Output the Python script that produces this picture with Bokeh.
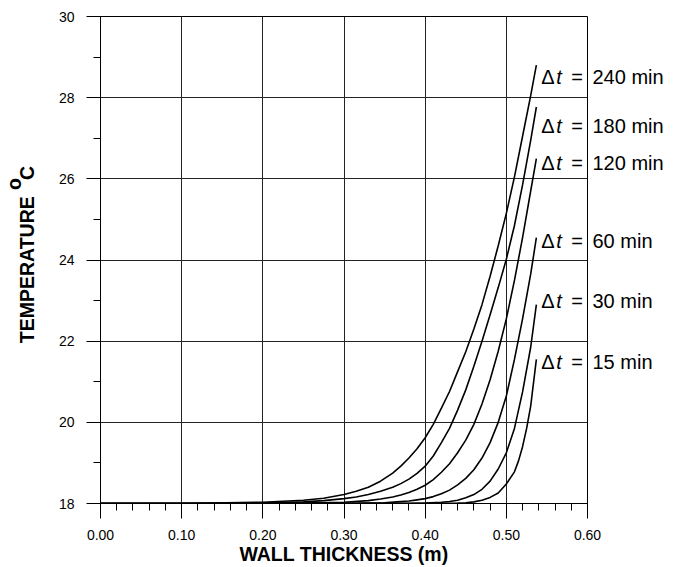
from bokeh.plotting import figure
from bokeh.models import Range1d, FixedTicker, Label, PrintfTickFormatter, LinearAxis
from bokeh.embed import file_html
from bokeh.resources import INLINE

# ---------------- data ----------------
x_ticks = [0.0, 0.1, 0.2, 0.3, 0.4, 0.5, 0.6]
x_tick_labels = ["0.00", "0.10", "0.20", "0.30", "0.40", "0.50", "0.60"]
x_minor = [round(i * 0.02, 2) for i in range(31)]
y_ticks = [18, 20, 22, 24, 26, 28, 30]
y_tick_labels = ["18", "20", "22", "24", "26", "28", "30"]
y_minor = list(range(18, 31))

series_names = ["240 min", "180 min", "120 min", "60 min", "30 min", "15 min"]

x_240 = [0.00, 0.10, 0.20, 0.25, 0.275, 0.30, 0.315, 0.33, 0.345, 0.36, 0.37, 0.38, 0.39, 0.40, 0.41, 0.42, 0.43, 0.44, 0.45, 0.46, 0.47, 0.48, 0.49, 0.50, 0.51, 0.52, 0.53, 0.537]
t_240 = [18.00, 18.00, 18.03, 18.08, 18.13, 18.22, 18.30, 18.40, 18.55, 18.75, 18.92, 19.12, 19.35, 19.62, 19.95, 20.35, 20.76, 21.25, 21.74, 22.30, 22.90, 23.60, 24.35, 25.15, 26.05, 27.05, 28.05, 28.80]

x_180 = [0.00, 0.15, 0.20, 0.25, 0.275, 0.30, 0.315, 0.33, 0.345, 0.36, 0.37, 0.38, 0.39, 0.40, 0.41, 0.42, 0.43, 0.44, 0.45, 0.46, 0.47, 0.48, 0.49, 0.50, 0.51, 0.52, 0.53, 0.537]
t_180 = [18.00, 18.00, 18.01, 18.04, 18.07, 18.12, 18.16, 18.22, 18.30, 18.40, 18.49, 18.60, 18.74, 18.92, 19.17, 19.50, 19.85, 20.30, 20.80, 21.38, 22.00, 22.65, 23.32, 24.02, 24.85, 25.85, 26.95, 27.77]

x_120 = [0.00, 0.20, 0.25, 0.30, 0.33, 0.345, 0.36, 0.37, 0.38, 0.39, 0.40, 0.41, 0.42, 0.43, 0.44, 0.45, 0.46, 0.47, 0.48, 0.49, 0.50, 0.51, 0.52, 0.53, 0.537]
t_120 = [18.00, 18.00, 18.01, 18.03, 18.07, 18.11, 18.16, 18.21, 18.27, 18.35, 18.45, 18.59, 18.77, 18.98, 19.25, 19.56, 19.95, 20.45, 21.05, 21.75, 22.55, 23.50, 24.55, 25.70, 26.50]

x_60 = [0.00, 0.30, 0.35, 0.365, 0.38, 0.39, 0.40, 0.41, 0.42, 0.43, 0.44, 0.45, 0.46, 0.47, 0.48, 0.49, 0.50, 0.51, 0.52, 0.53, 0.537]
t_60 = [18.00, 18.00, 18.02, 18.04, 18.06, 18.09, 18.12, 18.17, 18.24, 18.33, 18.46, 18.62, 18.83, 19.12, 19.50, 20.00, 20.65, 21.55, 22.55, 23.65, 24.55]

x_30 = [0.00, 0.38, 0.40, 0.42, 0.43, 0.44, 0.45, 0.46, 0.47, 0.48, 0.49, 0.50, 0.51, 0.52, 0.53, 0.537]
t_30 = [18.00, 18.00, 18.01, 18.03, 18.05, 18.08, 18.14, 18.22, 18.35, 18.55, 18.85, 19.25, 19.85, 20.75, 21.85, 22.90]

x_15 = [0.00, 0.44, 0.45, 0.46, 0.47, 0.48, 0.49, 0.50, 0.51, 0.515, 0.52, 0.525, 0.53, 0.537]
t_15 = [18.00, 18.01, 18.02, 18.04, 18.08, 18.15, 18.26, 18.48, 18.78, 19.05, 19.40, 19.85, 20.40, 21.55]

series_x = [x_240, x_180, x_120, x_60, x_30, x_15]
series_t = [t_240, t_180, t_120, t_60, t_30, t_15]

# ---------------- layout / style ----------------
FONT = "Liberation Sans"
NB = "\u00a0"
name_y = [28.52, 27.30, 26.39, 24.48, 23.00, 21.48]      # vertical centre of each curve label (data units)

p = figure(width=678, height=567,
           x_range=Range1d(0, 0.6), y_range=Range1d(18, 30),
           output_backend="svg", toolbar_location=None,
           min_border_left=99, min_border_right=91,
           min_border_top=16, min_border_bottom=63)
p.background_fill_color = "white"
p.border_fill_color = "white"
p.outline_line_color = "black"
p.outline_line_width = 1

p.xaxis.ticker = FixedTicker(ticks=x_ticks, minor_ticks=x_minor)
p.xaxis.formatter = PrintfTickFormatter(format="%.2f")
p.xaxis.major_label_overrides = {float(k): v for k, v in zip(x_ticks, x_tick_labels)}
p.yaxis.ticker = FixedTicker(ticks=y_ticks, minor_ticks=y_minor)
p.yaxis.major_label_overrides = {k: v for k, v in zip(y_ticks, y_tick_labels)}

for ax, tick_out, standoff in ((p.xaxis, 15, 11), (p.yaxis, 14, 12)):
    ax.axis_line_color = "black"
    ax.axis_line_width = 1
    ax.major_tick_line_color = "black"
    ax.minor_tick_line_color = "black"
    ax.major_tick_out = tick_out
    ax.major_tick_in = 0
    ax.minor_tick_out = 7
    ax.minor_tick_in = 0
    ax.major_label_text_font = FONT
    ax.major_label_text_font_size = "14px"
    ax.major_label_text_color = "black"
    ax.major_label_standoff = standoff
    ax.axis_label_text_font = FONT
    ax.axis_label_text_font_size = "19.5px"
    ax.axis_label_text_font_style = "bold"
    ax.axis_label_text_color = "black"

p.xaxis.axis_label = "WALL THICKNESS (m)"
p.xaxis.axis_label_standoff = 0
p.yaxis.axis_label = (NB * 28 + "o" + "\n" +
                      NB * 2 + "TEMPERATURE" + NB * 3 + "C")
p.yaxis.axis_label_text_line_height = 0.58
p.yaxis.axis_label_standoff = 18

p.xgrid.grid_line_color = "#222222"
p.ygrid.grid_line_color = "#222222"
p.grid.grid_line_width = 1

for xs, ts in zip(series_x, series_t):
    p.line(xs, ts, line_color="black", line_width=1.6)

# curve labels: "Δt =" inside the frame ...
for xs, ly in zip(series_x, name_y):
    xe = xs[-1]
    for txt, off, style in (("\u0394", 5, "normal"), ("t", 20, "italic"), ("=", 35, "normal")):
        p.add_layout(Label(x=xe, y=ly, x_offset=off, text=txt,
                           text_font=FONT, text_font_size="20px",
                           text_font_style=style, text_color="black",
                           text_align="left", text_baseline="middle"))

# ... and "NNN min" just outside it, as labels of a right-hand axis
right = LinearAxis(ticker=FixedTicker(ticks=name_y, minor_ticks=[]),
                   major_label_overrides={float(k): v for k, v in zip(name_y, series_names)},
                   axis_line_color=None, major_tick_line_color=None, minor_tick_line_color=None,
                   major_tick_out=0, major_tick_in=0, major_label_standoff=5,
                   major_label_text_font=FONT, major_label_text_font_size="20px",
                   major_label_text_color="black")
p.add_layout(right, "right")

open("out.html", "w").write(file_html(p, INLINE))
